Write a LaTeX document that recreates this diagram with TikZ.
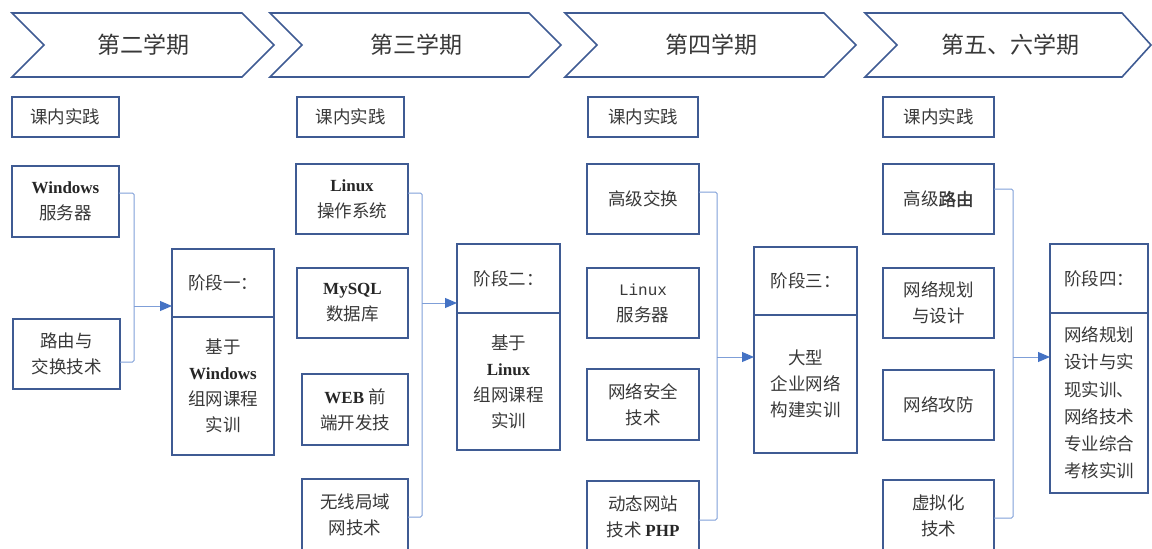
\documentclass[tikz,border=0pt]{standalone}
\usepackage{fontspec}
\setmainfont{Liberation Serif}
\newfontfamily\cjk{Noto Sans CJK SC}
\newfontfamily\cjkb[FakeBold=1.5]{Noto Sans CJK SC}
\newfontfamily\monof{Liberation Mono}
\usetikzlibrary{arrows.meta}
\definecolor{boxblue}{HTML}{3F5B93}
\definecolor{connblue}{HTML}{7F9FD8}
\definecolor{arrblue}{HTML}{4472C4}
\definecolor{txt}{HTML}{383838}
\newcommand\lat[1]{{\rmfamily\bfseries\fontsize{17}{26}\selectfont\color{black!85}#1}}
\begin{document}
\begin{tikzpicture}[x=1pt,y=-1pt,
  box/.style={draw=boxblue, line width=1.6pt, rectangle, anchor=north west, inner sep=0pt, outer sep=0pt, align=center, text=txt, font=\cjk\fontsize{17.5}{26}\selectfont},
  chev/.style={draw=boxblue, line width=1.6pt, line join=miter},
  title/.style={font=\cjk\fontsize{23}{26}\selectfont, text=txt},
  conn/.style={draw=connblue, line width=1pt, rounded corners=1.5pt},
  arr/.style={draw=connblue, line width=1pt, -{Triangle[length=12pt,width=10pt,color=arrblue]}}]
\useasboundingbox (0,0) rectangle (1152,549);
\clip (0,0) rectangle (1152,549);
% chevrons
\draw[chev] (12,13) -- (242,13) -- (274,45) -- (242,77) -- (12,77) -- (44,45) -- cycle;
\draw[chev] (270,13) -- (529,13) -- (561,45) -- (529,77) -- (270,77) -- (302,45) -- cycle;
\draw[chev] (565,13) -- (824,13) -- (856,45) -- (824,77) -- (565,77) -- (597,45) -- cycle;
\draw[chev] (865,13) -- (1122,13) -- (1151,45) -- (1122,77) -- (865,77) -- (897,45) -- cycle;
\node[title] (t1) at (143,45) {第二学期};
\node[title] (t2) at (416,45) {第三学期};
\node[title] (t3) at (711,45) {第四学期};
\node[title] (t4) at (1010,45) {第五、六学期};
% practice boxes
\node[box, minimum width=107pt, minimum height=40pt] (p1) at (12,97) {课内实践};
\node[box, minimum width=107pt, minimum height=40pt] (p2) at (297,97) {课内实践};
\node[box, minimum width=110pt, minimum height=40pt] (p3) at (588,97) {课内实践};
\node[box, minimum width=111pt, minimum height=40pt] (p4) at (883,97) {课内实践};
% column 1
\node[box, minimum width=107pt, minimum height=71pt] (c1a) at (12,166) {\lat{Windows}\\服务器};
\node[box, minimum width=107pt, minimum height=70pt] (c1b) at (13,319) {路由与\\交换技术};
\node[box, minimum width=102pt, minimum height=68pt] (s1h) at (172,249) {阶段一：};
\node[box, minimum width=102pt, minimum height=138pt] (s1b) at (172,317) {基于\\\lat{Windows}\\组网课程\\实训};
% column 2
\node[box, minimum width=112pt, minimum height=70pt] (c2a) at (296,164) {\lat{Linux}\\操作系统};
\node[box, minimum width=111pt, minimum height=70pt] (c2b) at (297,268) {\lat{MySQL}\\数据库};
\node[box, minimum width=106pt, minimum height=71pt] (c2c) at (302,374) {\lat{WEB} 前\\端开发技};
\node[box, minimum width=106pt, minimum height=72pt] (c2d) at (302,479) {无线局域\\网技术};
\node[box, minimum width=103pt, minimum height=69pt] (s2h) at (457,244) {阶段二：};
\node[box, minimum width=103pt, minimum height=137pt] (s2b) at (457,313) {基于\\\lat{Linux}\\组网课程\\实训};
% column 3
\node[box, minimum width=112pt, minimum height=70pt] (c3a) at (587,164) {高级交换};
\node[box, minimum width=112pt, minimum height=70pt] (c3b) at (587,268) {{\monof\fontsize{16}{26}\selectfont Linux}\\服务器};
\node[box, minimum width=112pt, minimum height=71pt] (c3c) at (587,369) {网络安全\\技术};
\node[box, minimum width=112pt, minimum height=72pt] (c3d) at (587,481) {动态网站\\技术 \lat{PHP}};
\node[box, minimum width=103pt, minimum height=68pt] (s3h) at (754,247) {阶段三：};
\node[box, minimum width=103pt, minimum height=138pt] (s3b) at (754,315) {大型\\企业网络\\构建实训};
% column 4
\node[box, minimum width=111pt, minimum height=70pt] (c4a) at (883,164) {高级{\cjkb 路由}};
\node[box, minimum width=111pt, minimum height=70pt] (c4b) at (883,268) {网络规划\\与设计};
\node[box, minimum width=111pt, minimum height=70pt] (c4c) at (883,370) {网络攻防};
\node[box, minimum width=111pt, minimum height=72pt] (c4d) at (883,480) {虚拟化\\技术};
\node[box, minimum width=98pt, minimum height=69pt] (s4h) at (1050,244) {阶段四：};
\node[box, minimum width=98pt, minimum height=180pt, font=\cjk\fontsize{17.5}{27.2}\selectfont] (s4b) at (1050,313) {网络规划\\设计与实\\现实训、\\网络技术\\专业综合\\考核实训};
% connectors
\coordinate (b1t) at (134,193); \coordinate (b1b) at (134,362); \coordinate (b1m) at (134,306);
\draw[conn] (c1a.east |- b1t) -- (b1t) -- (b1b) -- (c1b.east |- b1b);
\draw[arr] (b1m) -- (s1h.west |- b1m);
\coordinate (b2t) at (422,193); \coordinate (b2b) at (422,517); \coordinate (b2m) at (422,303);
\draw[conn] (c2a.east |- b2t) -- (b2t) -- (b2b) -- (c2d.east |- b2b);
\draw[arr] (b2m) -- (s2h.west |- b2m);
\coordinate (b3t) at (717,192); \coordinate (b3b) at (717,520); \coordinate (b3m) at (717,357);
\draw[conn] (c3a.east |- b3t) -- (b3t) -- (b3b) -- (c3d.east |- b3b);
\draw[arr] (b3m) -- (s3b.west |- b3m);
\coordinate (b4t) at (1013,189); \coordinate (b4b) at (1013,518); \coordinate (b4m) at (1013,357);
\draw[conn] (c4a.east |- b4t) -- (b4t) -- (b4b) -- (c4d.east |- b4b);
\draw[arr] (b4m) -- (s4b.west |- b4m);
\end{tikzpicture}
\end{document}
